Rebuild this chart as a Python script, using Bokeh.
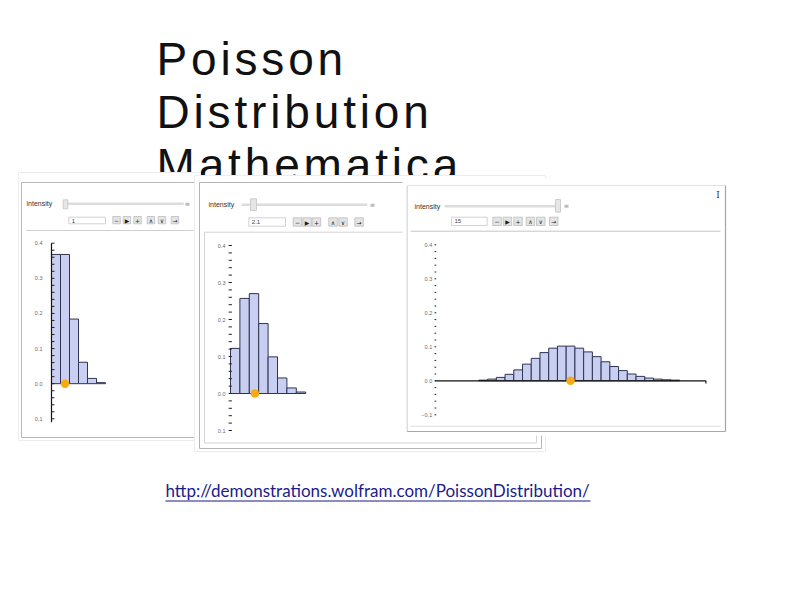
from bokeh.plotting import figure
from bokeh.models import Range1d, ColumnDataSource
from bokeh.core.properties import value
from bokeh.embed import file_html
from bokeh.resources import INLINE

# ---------------- data ----------------
title_lines = ["Poisson", "Distribution", "Mathematica"]
url_text = "http://demonstrations.wolfram.com/PoissonDistribution/"
control_label = "intensity"

intensity = [1.0, 2.1, 15.0]
intensity_text = ["1", "2.1", "15"]

k1 = [0, 1, 2, 3, 4, 5]
p1 = [0.368, 0.368, 0.184, 0.061, 0.015, 0.003]

k2 = [0, 1, 2, 3, 4, 5, 6, 7]
p2 = [0.122, 0.257, 0.270, 0.189, 0.099, 0.042, 0.015, 0.004]

k3 = [5, 6, 7, 8, 9, 10, 11, 12, 13, 14, 15, 16, 17, 18, 19, 20, 21, 22, 23, 24, 25, 26, 27]
p3 = [0.002, 0.005, 0.010, 0.019, 0.032, 0.049, 0.066, 0.083, 0.096, 0.102, 0.102, 0.096,
      0.085, 0.071, 0.056, 0.042, 0.030, 0.020, 0.013, 0.008, 0.005, 0.003, 0.002]

y_major = [-0.1, 0.0, 0.1, 0.2, 0.3, 0.4]
y_labels_12 = ["0.1", "0.0", "0.1", "0.2", "0.3", "0.4"]
y_labels_3 = ["\u22120.1", "0.0", "0.1", "0.2", "0.3", "0.4"]
y_minor = [-0.1, -0.08, -0.06, -0.04, -0.02, 0.0, 0.02, 0.04, 0.06, 0.08, 0.1, 0.12, 0.14,
           0.16, 0.18, 0.2, 0.22, 0.24, 0.26, 0.28, 0.3, 0.32, 0.34, 0.36, 0.38, 0.4]

button_symbols = ["\u2212", "\u25B6", "+", "\u2227", "\u2228", "\u2192"]

# ---------------- styles ----------------
BAR_FILL = "#C8CFF1"
BAR_LINE = "#2F3452"
DOT = "#F7AA12"
TICK_TXT = "#6a6a6a"
HAIR = "\u200a"

p = figure(width=794, height=595, x_range=Range1d(0, 794), y_range=Range1d(595, 0),
           output_backend="svg", toolbar_location=None, min_border=0,
           x_axis_location=None, y_axis_location=None, background_fill_color="white",
           border_fill_color="white")
p.grid.visible = False
p.outline_line_color = None

# ---- title ----
p.text(x=[156, 156, 156], y=[58.5, 111.5, 164.5],
       text=[HAIR.join(list(t)) for t in title_lines],
       text_font=value("Liberation Sans"), text_font_size="46px",
       text_color="#111111", text_baseline="alphabetic", text_align="left")

# ---- URL ----
p.text(x=[165], y=[490], text=[url_text], text_font=value("Lato"), text_font_size="17px",
       text_color="#1b1b8c", text_baseline="alphabetic", text_align="left")
p.segment(x0=[165], y0=[500.5], x1=[590], y1=[500.5], line_color="#1b1b8c", line_width=1.2)


def controls(lab_x, lab_y, tr0, tr1, tr_y, h0, h1, hy0, hy1, sq0, sq1, sqy0, sqy1,
             in0, in1, iny0, iny1, txt, bxs, bw, by0, by1):
    p.text(x=[lab_x], y=[lab_y], text=[control_label], text_font=value("Liberation Sans"),
           text_font_size="7px", text_color="#333333", text_baseline="middle")
    p.segment(x0=[tr0], y0=[tr_y], x1=[tr1], y1=[tr_y], line_color="#dcdcdc", line_width=2.5)
    p.quad(left=[h0], right=[h1], top=[hy0], bottom=[hy1], fill_color="#e6e6e6",
           line_color="#c4c4c4", line_width=0.8)
    p.quad(left=[sq0], right=[sq1], top=[sqy0], bottom=[sqy1], fill_color="#bdbdbd",
           line_color=None)
    p.quad(left=[in0], right=[in1], top=[iny0], bottom=[iny1], fill_color="white",
           line_color="#c8c8c8", line_width=0.8)
    p.text(x=[in0 + 3], y=[(iny0 + iny1) / 2], text=[txt], text_font=value("Liberation Sans"),
           text_font_size="6px", text_color="#444444", text_baseline="middle")
    p.quad(left=bxs, right=[b + bw for b in bxs], top=[by0] * len(bxs), bottom=[by1] * len(bxs),
           fill_color="#e4e4e4", line_color="#bdbdbd", line_width=0.8)
    p.text(x=[b + bw / 2 for b in bxs], y=[(by0 + by1) / 2 + 0.3] * len(bxs), text=button_symbols,
           text_font=value("DejaVu Sans"), text_font_size="6px", text_color="#222222",
           text_align="center", text_baseline="middle")


def histogram(ks, ps, lam, xsrc, xt, yt, labels, lab_x, spine, tick_lo, tick_hi, xaxis):
    sub = p.subplot(x_source=Range1d(*xsrc), y_source=Range1d(-0.1, 0.4),
                    x_target=Range1d(*xt), y_target=Range1d(*yt))
    src = ColumnDataSource(dict(left=[k - 0.5 for k in ks], right=[k + 0.5 for k in ks],
                                top=ps, bottom=[0.0] * len(ks)))
    sub.quad(left="left", right="right", top="top", bottom="bottom", source=src,
             fill_color=BAR_FILL, line_color=BAR_LINE, line_width=1)
    if spine:
        sub.segment(x0=[xsrc[0]], y0=[-0.11], x1=[xsrc[0]], y1=[0.4], line_color="#111111",
                    line_width=1.2)
    sub.segment(x0=[xsrc[0] + tick_lo] * len(y_minor), y0=y_minor,
                x1=[xsrc[0] + tick_hi] * len(y_minor), y1=y_minor,
                line_color="#222222", line_width=1)
    if xaxis:
        sub.segment(x0=[xsrc[0]], y0=[0.0], x1=[xsrc[1]], y1=[0.0], line_color="#111111",
                    line_width=1.3)
        sub.segment(x0=[xsrc[1]], y0=[0.0], x1=[xsrc[1]], y1=[-0.008], line_color="#111111",
                    line_width=1.2)
    sub.text(x=[xsrc[0]] * len(y_major), y=y_major, text=labels, x_offset=lab_x,
             text_font=value("Liberation Sans"), text_font_size="5.5px", text_color=TICK_TXT,
             text_align="right", text_baseline="middle")
    sub.scatter(x=[lam], y=[0.0], size=8.5, fill_color=DOT, line_color=None)


# ---------------- panel 1 ----------------
p.quad(left=[18], right=[200], top=[172], bottom=[440], fill_color="white",
       line_color="#ececec", line_width=1)
p.quad(left=[21], right=[200], top=[182], bottom=[437], fill_color="white",
       line_color="#b8b8b8", line_width=1)
controls(26, 203.3, 67, 183.3, 203.3, 62.7, 67.3, 199.3, 208.3, 185, 189, 202.3, 205.3,
         68.3, 105, 216.7, 223.3, intensity_text[0], [112.3, 122.7, 133.3, 146.7, 157.7, 170.7],
         7.5, 216, 223.3)
p.segment(x0=[26], y0=[230], x1=[193], y1=[230], line_color="#cfcfcf", line_width=1)
histogram(k1, p1, intensity[0], (-0.5, 5.5), (51, 105), (418.3, 242.7), y_labels_12, -9,
          True, 0.0, 0.33, False)

# ---------------- panel 2 ----------------
p.quad(left=[194], right=[545], top=[175], bottom=[451], fill_color="white",
       line_color="#ececec", line_width=1)
p.quad(left=[199], right=[541], top=[182], bottom=[448], fill_color="white",
       line_color="#b4b4b4", line_width=1)
p.quad(left=[204], right=[536], top=[231.7], bottom=[442.5], fill_color="white",
       line_color="#d4d4d4", line_width=1)
controls(208, 204.3, 241, 366.7, 204.3, 250, 256, 198.3, 210, 370, 374, 203.3, 206.3,
         248.3, 285, 217.3, 225.7, intensity_text[1], [292.7, 302.3, 311.7, 328.3, 338.3, 354.3],
         8.5, 217.3, 225.7)
histogram(k2, p2, intensity[1], (-0.5, 7.5), (230, 305.2), (430, 245), y_labels_12, -5,
          False, -0.2, 0.15, False)

# ---------------- panel 3 ----------------
p.quad(left=[402], right=[729], top=[178], bottom=[435], fill_color="white", line_color=None)
p.segment(x0=[406.7, 406.7, 725, 406.7], y0=[185, 185, 185, 431],
          x1=[406.7, 725, 725, 725], y1=[431, 185, 431, 431],
          line_color=["#d6d6d6", "#e2e2e2", "#a6a6a6", "#a6a6a6"], line_width=1.2)
p.segment(x0=[410, 410], y0=[230.7, 425.7], x1=[720, 720], y1=[230.7, 425.7],
          line_color=["#c6c6c6", "#dddddd"], line_width=1)
controls(414, 205.7, 444.3, 555, 205.7, 555, 560, 199, 211.7, 564, 568, 204.3, 207.3,
         451, 486.7, 216.7, 225, intensity_text[2], [492.3, 502.7, 513.3, 525.7, 536, 549],
         8.5, 216.7, 225)
p.text(x=[717.5], y=[194], text=["I"], text_font=value("DejaVu Serif"), text_font_size="9px",
       text_color="#333333", text_align="center", text_baseline="middle")
histogram(k3, p3, intensity[2], (-0.5, 30.5), (434.7, 705.4), (414.3, 244.3), y_labels_3, -3,
          False, -0.08, 0.12, True)

open("out.html", "w").write(file_html(p, INLINE))
